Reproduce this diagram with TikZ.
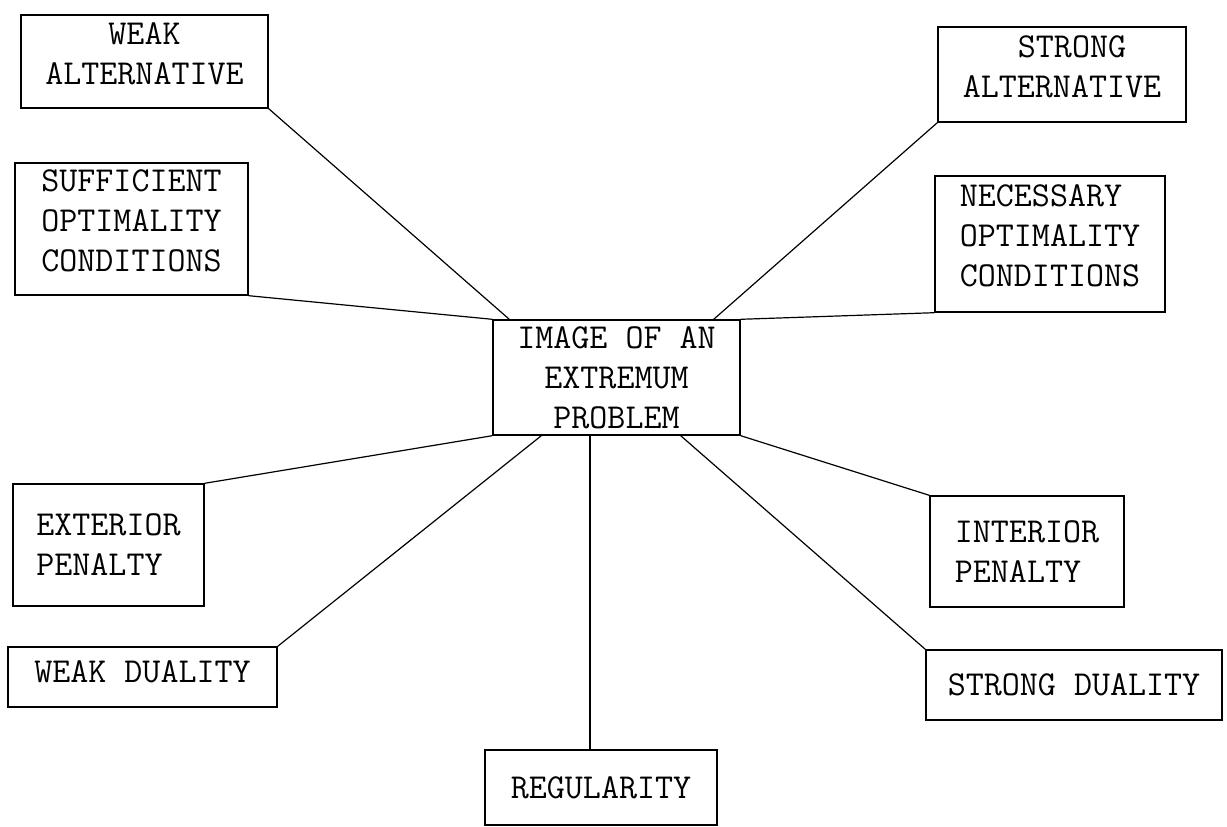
\documentclass[tikz,border=0pt]{standalone}
\usepackage{fontspec}
\tikzset{
  topic/.style={draw, line width=1.4pt, inner sep=0pt, align=center,
    font=\ttfamily\fontsize{35}{40}\selectfont},
  link/.style={line width=1.2pt}
}
\begin{document}
\begin{tikzpicture}[x=1pt,y=-1pt]
    \useasboundingbox (0,0) rectangle (1227,827);
    % centre
    \node[topic, minimum width=247pt, minimum height=115pt] (img) at (616.5,377.5) {IMAGE OF AN\\EXTREMUM\\PROBLEM};
    % left column
    \node[topic, minimum width=247pt, minimum height=93pt, text depth=16pt] (weakalt) at (144.5,61.5) {WEAK\\ALTERNATIVE};
    \node[topic, minimum width=233pt, minimum height=132pt, text depth=16pt] (suff) at (131.5,229) {SUFFICIENT\\OPTIMALITY\\CONDITIONS};
    \node[topic, align=left, minimum width=191pt, minimum height=122pt] (ext) at (108.5,545) {EXTERIOR\\PENALTY};
    \node[topic, minimum width=269pt, minimum height=60pt, text depth=10pt] (weakdual) at (142.5,677) {WEAK DUALITY};
    % right column
    \node[topic, minimum width=248pt, minimum height=95pt, text depth=16pt] (strongalt) at (1062,74.5) {\hspace*{20pt}STRONG\\ALTERNATIVE};
    \node[topic, align=left, minimum width=230pt, minimum height=136pt, text depth=16pt] (nec) at (1050,244) {NECESSARY\\OPTIMALITY\\CONDITIONS};
    \node[topic, align=left, minimum width=194pt, minimum height=111pt] (inter) at (1027,551.5) {INTERIOR\\PENALTY};
    \node[topic, minimum width=296pt, minimum height=70pt] (strongdual) at (1074,685) {STRONG DUALITY};
    % bottom
    \node[topic, minimum width=232pt, minimum height=75pt] (reg) at (601,787.5) {REGULARITY};
    \coordinate (regtop) at ([xshift=-11pt]reg.north);
    % connectors
    \draw[link] (weakalt.south east) -- ([xshift=17pt]img.north west);
    \draw[link] (strongalt.south west) -- ([xshift=-27pt]img.north east);
    \draw[link] (suff.south east) -- (img.north west);
    \draw[link] (nec.south west) -- (img.north east);
    \draw[link] (ext.north east) -- (img.south west);
    \draw[link] (weakdual.north east) -- ([xshift=49pt]img.south west);
    \draw[link] (regtop) -- (regtop |- img.south);
    \draw[link] (strongdual.north west) -- ([xshift=-60pt]img.south east);
    \draw[link] (inter.north west) -- (img.south east);
\end{tikzpicture}
\end{document}
